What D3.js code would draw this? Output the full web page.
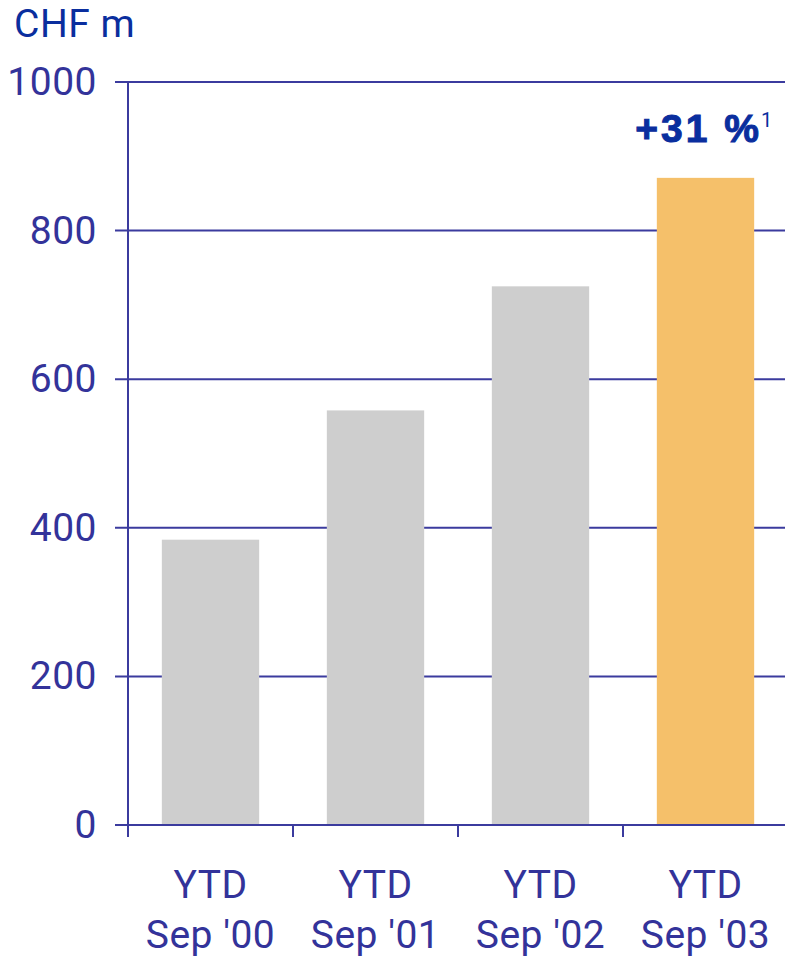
<!DOCTYPE html>
<html>
<head>
<meta charset="utf-8">
<script src="https://cdn.jsdelivr.net/npm/d3@7"></script>
<style>
  html, body { margin: 0; padding: 0; background: #fff; }
  svg { display: block; font-family: Roboto, "Noto Sans", sans-serif; }
</style>
</head>
<body>
<svg id="chart" width="785" height="957"></svg>
<script>
const periods = ["Sep '00", "Sep '01", "Sep '02", "Sep '03"];
const periodPrefix = ["YTD", "YTD", "YTD", "YTD"];
const values = [384, 558, 725, 871];
const yTicks = [0, 200, 400, 600, 800, 1000];
const growthLabel = "+31 %";
const growthNote = "1";

const svg = d3.select("#chart");
const axisColor = "#3b3b9e";
const labelColor = "#33339a";
const titleColor = "#0a2e9e";

const x = d3.scaleBand().domain(periods).range([128, 788]).paddingInner(0.41).paddingOuter(0.205);
const y = d3.scaleLinear().domain([0, 1000]).range([825, 82]);

// horizontal grid lines
svg.append("g").selectAll("line").data(yTicks).join("line")
  .attr("x1", 115).attr("x2", 785)
  .attr("y1", d => y(d)).attr("y2", d => y(d))
  .attr("stroke", axisColor).attr("stroke-width", 2);

// bars
svg.append("g").selectAll("rect").data(values).join("rect")
  .attr("x", (d, i) => x(periods[i]))
  .attr("width", x.bandwidth())
  .attr("y", d => y(d))
  .attr("height", d => y(0) - y(d))
  .attr("fill", (d, i) => i === values.length - 1 ? "#f5c06a" : "#cecece");

// redraw baseline on top of bars
svg.append("line")
  .attr("x1", 115).attr("x2", 785).attr("y1", y(0)).attr("y2", y(0))
  .attr("stroke", axisColor).attr("stroke-width", 2);

// vertical axis
svg.append("line")
  .attr("x1", 128).attr("x2", 128).attr("y1", y(1000)).attr("y2", 837)
  .attr("stroke", axisColor).attr("stroke-width", 2);

// category separators below the baseline
const step = x.step();
svg.append("g").selectAll("line").data(periods.slice(1)).join("line")
  .attr("x1", (d) => x(d) - x.paddingInner() * step / 2)
  .attr("x2", (d) => x(d) - x.paddingInner() * step / 2)
  .attr("y1", y(0)).attr("y2", 837)
  .attr("stroke", axisColor).attr("stroke-width", 2);

// y tick labels
svg.append("g").selectAll("text").data(yTicks).join("text")
  .attr("x", 97).attr("y", d => y(d) + 13)
  .attr("text-anchor", "end")
  .attr("font-size", 39).attr("letter-spacing", 0.5).attr("fill", labelColor)
  .text(d => d);

// unit label
svg.append("text").attr("x", 14).attr("y", 37)
  .attr("font-size", 39).attr("letter-spacing", 0.5).attr("fill", titleColor).text("CHF m");

// x labels
const xl = svg.append("g").selectAll("g").data(periods).join("g")
  .attr("transform", d => `translate(${x(d) + x.bandwidth() / 2},0)`);
xl.append("text").attr("y", 898).attr("text-anchor", "middle")
  .attr("font-size", 39).attr("letter-spacing", 0.5).attr("fill", labelColor).text((d, i) => periodPrefix[i]);
xl.append("text").attr("y", 948).attr("text-anchor", "middle")
  .attr("font-size", 39).attr("letter-spacing", 0.5).attr("fill", labelColor).text(d => d);

// growth annotation above last bar
svg.append("text")
  .attr("x", 762).attr("y", 142)
  .attr("text-anchor", "end").attr("fill", titleColor)
  .attr("stroke", titleColor).attr("stroke-width", 1)
  .attr("font-size", 39).attr("font-weight", "bold")
  .attr("font-family", "'Liberation Sans', Arial, sans-serif").attr("letter-spacing", 3)
  .text(growthLabel);
svg.append("text")
  .attr("x", 761).attr("y", 127).attr("fill", titleColor)
  .attr("font-size", 20).text(growthNote);
</script>
</body>
</html>
